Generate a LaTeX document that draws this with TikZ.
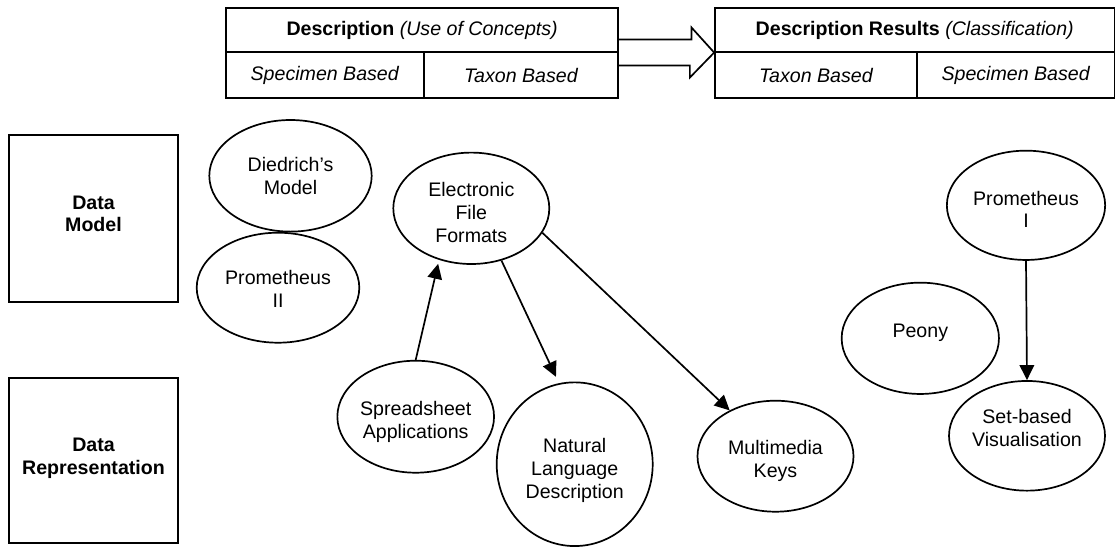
\documentclass[tikz,border=0pt]{standalone}
\usepackage{fontspec}
\setmainfont{Liberation Sans}
\usetikzlibrary{shapes.geometric,arrows.meta}
\begin{document}
\begin{tikzpicture}[x=1pt,y=-1pt,
  font=\fontsize{19.6}{22.8}\selectfont,
  line width=1.7pt,
  cell/.style={draw, rectangle, inner sep=0pt},
  sidebox/.style={draw, rectangle, inner sep=0pt, minimum width=168.4pt},
  oval/.style={draw, ellipse, inner sep=0pt, minimum width=156pt, minimum height=111pt},
  ovtext/.style={align=center, inner sep=0pt},
  boxtext/.style={align=center, inner sep=0pt, font=\fontsize{19.6}{22.8}\selectfont\bfseries},
  arr/.style={-{Triangle[length=15pt,width=14.5pt]}},
  blockarrow/.style={line join=miter}
]
\useasboundingbox (0,0) rectangle (1116,547);

% header: description (use of concepts)
\node[cell, minimum width=392.3pt, minimum height=43.4pt] (descL) at (422.15,30)
  {\textbf{Description} \textit{(Use of Concepts)}};
\node[cell, minimum width=198pt, minimum height=46.6pt] (specL) at (325,75) {\textit{Specimen Based}};
\node[cell, minimum width=194.3pt, minimum height=46.6pt] (taxL) at (521.15,75) {\textit{Taxon Based}};

% header: description results (classification)
\node[cell, minimum width=399.5pt, minimum height=43.4pt] (descR) at (914.75,30)
  {\textbf{Description Results} \textit{(Classification)}};
\node[cell, minimum width=202.3pt, minimum height=46.6pt] (taxR) at (816.15,75) {\textit{Taxon Based}};
\node[cell, minimum width=197.2pt, minimum height=46.6pt] (specR) at (1015.9,75) {\textit{Specimen Based}};

% block arrow between the two headers
\coordinate (aL) at (descL.south east);
\coordinate (aR) at (descR.south west);
\draw[blockarrow] (aL) ++(0,-13) -- ++(72.4,0) -- ++(0,-12) -- (aR)
  -- ++(-24.3,25) -- ++(0,-12) -- ++(-72.4,0);

% row headings
\node[sidebox, minimum height=166.7pt, label={[boxtext,yshift=4.5pt]center:{Data\\Model}}] (dm) at (93.5,218.35) {};
\node[sidebox, minimum height=165.6pt, label={[boxtext,yshift=2.2pt]center:{Data\\Representation}}] (dr) at (93.5,460.5) {};

% tools and formats
\node[oval, minimum width=162.4pt, minimum height=111.6pt,
  label={[ovtext,yshift=-0.5pt]center:{Diedrich’s\\Model}}] (died) at (290.5,175.8) {};
\node[oval, minimum width=162.6pt, minimum height=110pt,
  label={[ovtext,yshift=-1pt]center:{Prometheus\\II}}] (p2) at (278,287.7) {};
\node[oval, minimum width=156pt, minimum height=111.4pt,
  label={[ovtext,yshift=-4pt]center:{Electronic\\File\\Formats}}] (eff) at (471.3,208.3) {};
\node[oval, minimum width=156.7pt, minimum height=112pt,
  label={[ovtext,yshift=-5pt]center:{Spreadsheet\\Applications}}] (spread) at (415.7,416.7) {};
\node[oval, minimum width=156pt, minimum height=163.7pt,
  label={[ovtext,yshift=-6pt]center:{Natural\\Language\\Description}}] (nld) at (574.7,464.2) {};
\node[oval, minimum width=156pt, minimum height=111pt,
  label={[ovtext,yshift=-5pt]center:{Multimedia\\Keys}}] (mm) at (775.5,456.2) {};
\node[oval, minimum width=158.3pt, minimum height=109.3pt,
  label={[ovtext,yshift=-4pt]center:{Prometheus\\I}}] (p1) at (1026,205.3) {};
\node[oval, minimum width=157.3pt, minimum height=111.3pt,
  label={[ovtext,yshift=5.5pt]center:{Peony}}] (peony) at (920.3,338.3) {};
\node[oval, minimum width=156pt, minimum height=109.7pt,
  label={[ovtext,yshift=8pt]center:{Set-based\\Visualisation}}] (setb) at (1027,435.8) {};

% connectors
\draw[arr, shorten >=4pt] (spread.north) -- (eff.238);
\draw[arr, shorten >=7pt] (eff.300.5) -- (nld.101.6);
\draw[arr] (eff.341.3) -- (mm.135.6);
\draw[arr] (p1.south) -- (setb.north);
\end{tikzpicture}
\end{document}
